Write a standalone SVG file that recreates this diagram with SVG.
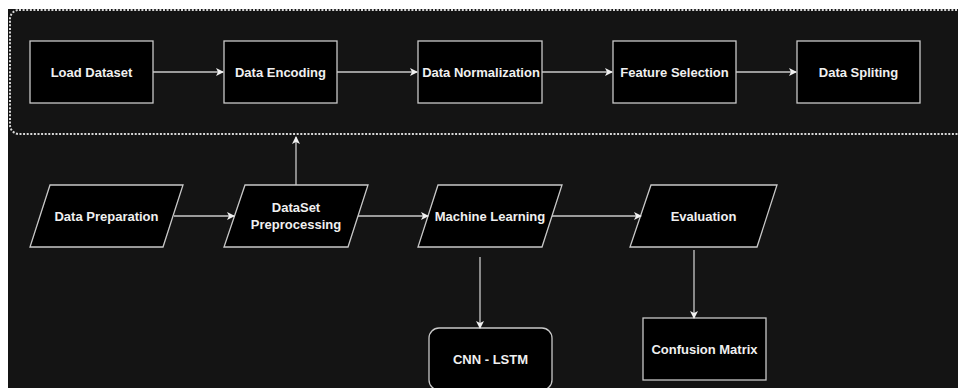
<svg xmlns="http://www.w3.org/2000/svg" width="958" height="388" viewBox="0 0 958 388">
<style>
.box{fill:#000;stroke:#c8c8c8;stroke-width:1.3}
.t{font-family:"Liberation Sans",Arial,sans-serif;font-weight:bold;font-size:13px;fill:#f0f0f0;text-anchor:middle;dominant-baseline:central}
.c{fill:none;stroke:#c8c8c8;stroke-width:1.3}
</style>
<defs>
<marker id="ah" markerWidth="10" markerHeight="10" refX="8" refY="5" orient="auto" markerUnits="userSpaceOnUse">
<path d="M1,1 L9,5 L1,9 L3,5 Z" fill="#f0f0f0"/>
</marker>
</defs>
<rect x="0" y="0" width="958" height="388" fill="#ffffff"/>
<rect x="8" y="9" width="960" height="390" fill="#141414"/>
<g id="container">
<rect x="10" y="10" width="980" height="124" rx="9" fill="none" stroke="#d8d8d8" stroke-width="2" stroke-dasharray="2 1.6"/>
</g>
<g id="load-dataset"><rect class="box" x="30" y="41" width="123" height="62"/><text class="t" x="91.5" y="72">Load Dataset</text></g>
<g id="data-encoding"><rect class="box" x="224" y="41" width="113" height="62"/><text class="t" x="280.5" y="72">Data Encoding</text></g>
<g id="data-normalization"><rect class="box" x="418" y="41" width="124" height="62"/><text class="t" x="481" y="72">Data Normalization</text></g>
<g id="feature-selection"><rect class="box" x="613" y="41" width="123" height="62"/><text class="t" x="674.5" y="72">Feature Selection</text></g>
<g id="data-spliting"><rect class="box" x="797" y="41" width="123" height="62"/><text class="t" x="858.5" y="72">Data Spliting</text></g>
<g id="data-preparation"><polygon class="box" points="50,185 183,185 163,247 30,247"/><text class="t" x="106.5" y="216">Data Preparation</text></g>
<g id="dataset-preprocessing"><polygon class="box" points="245,185 368,185 348,247 224,247"/><text class="t" x="296" y="207.5">DataSet</text><text class="t" x="296" y="224.5">Preprocessing</text></g>
<g id="machine-learning"><polygon class="box" points="438,185 562,185 542,247 418,247"/><text class="t" x="490" y="216">Machine Learning</text></g>
<g id="evaluation"><polygon class="box" points="651,185 777,185 757,247 630,247"/><text class="t" x="703.5" y="216">Evaluation</text></g>
<g id="cnn-lstm"><rect class="box" x="429" y="328" width="123" height="62" rx="10"/><text class="t" x="490.5" y="359">CNN - LSTM</text></g>
<g id="confusion-matrix"><rect class="box" x="643" y="318" width="123" height="62"/><text class="t" x="704.5" y="349">Confusion Matrix</text></g>
<g id="connectors">
<line class="c" x1="153" y1="72" x2="223" y2="72" marker-end="url(#ah)"/>
<line class="c" x1="337" y1="72" x2="417" y2="72" marker-end="url(#ah)"/>
<line class="c" x1="542" y1="72" x2="612" y2="72" marker-end="url(#ah)"/>
<line class="c" x1="736" y1="72" x2="796" y2="72" marker-end="url(#ah)"/>
<line class="c" x1="174" y1="216" x2="234" y2="216" marker-end="url(#ah)"/>
<line class="c" x1="296" y1="185" x2="296" y2="137" marker-end="url(#ah)"/>
<line class="c" x1="358" y1="216" x2="428" y2="216" marker-end="url(#ah)"/>
<line class="c" x1="552" y1="216" x2="641" y2="216" marker-end="url(#ah)"/>
<line class="c" x1="480" y1="257" x2="480" y2="328" marker-end="url(#ah)"/>
<line class="c" x1="694" y1="250" x2="694" y2="318" marker-end="url(#ah)"/>
</g>
</svg>
